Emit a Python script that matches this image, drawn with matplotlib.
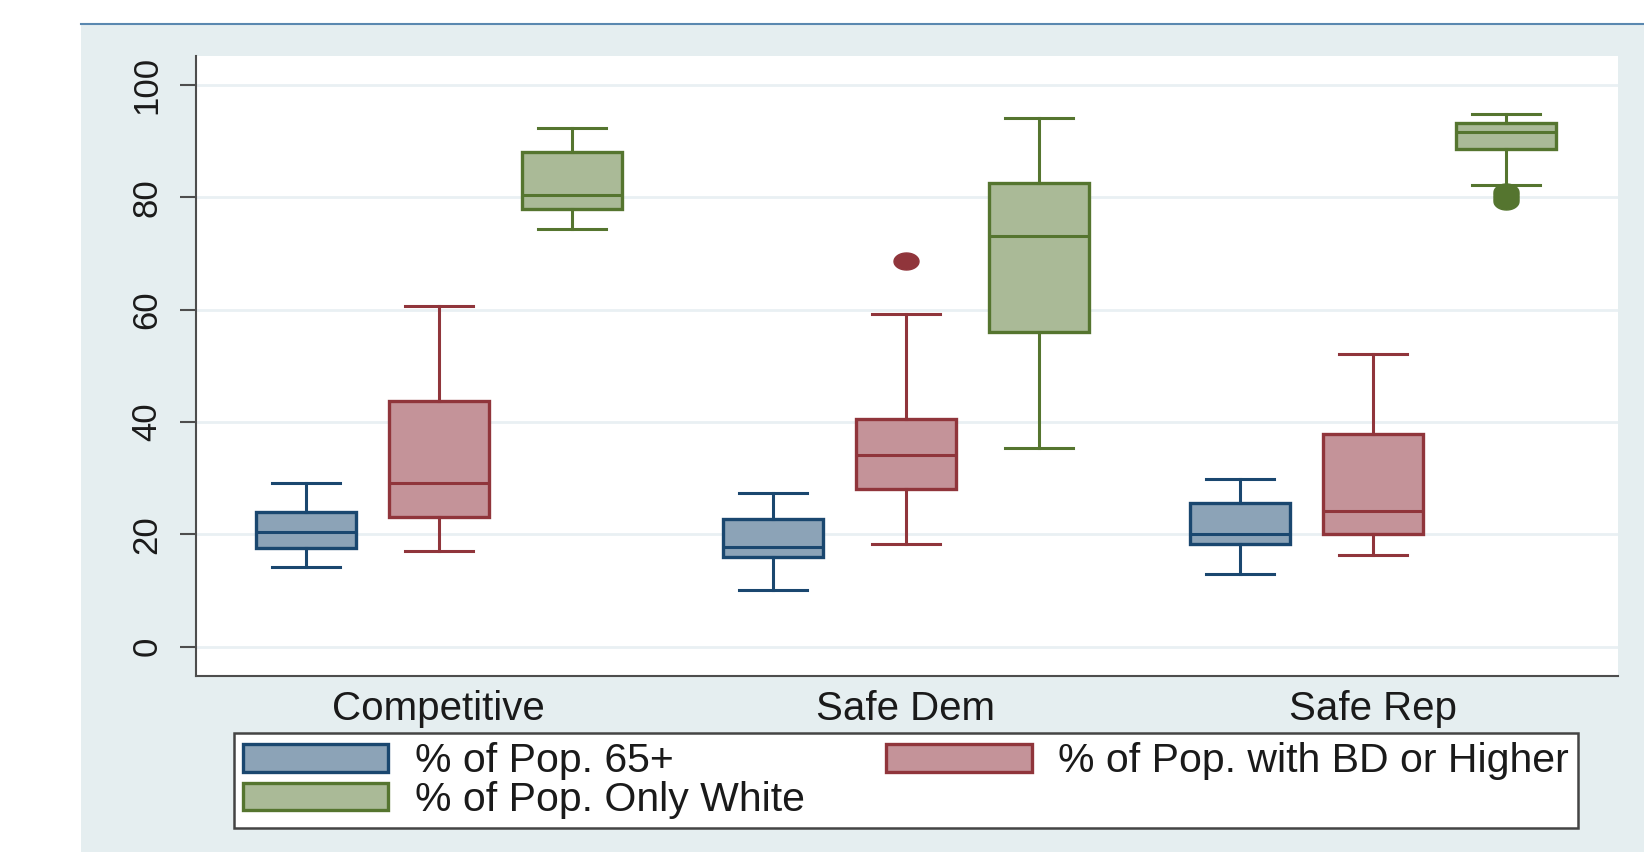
import numpy as np
import matplotlib
matplotlib.use('Agg')
import matplotlib.pyplot as plt
from matplotlib.patches import Patch, Rectangle
from matplotlib.lines import Line2D
from matplotlib.path import Path

plt.rcParams['font.family'] = ['Liberation Sans', 'DejaVu Sans']

groups = ['Competitive', 'Safe Dem', 'Safe Rep']
series = ['% of Pop. 65+', '% of Pop. with BD or Higher', '% of Pop. Only White']

# per group: [lower whisker, q1, median, q3, upper whisker]
age65_stats = [[14.2, 17.6, 20.4, 24.0, 29.2],
               [10.0, 16.0, 17.8, 22.7, 27.4],
               [13.0, 18.25, 20.0, 25.5, 29.9]]
bd_stats = [[17.0, 23.1, 29.1, 43.8, 60.7],
            [18.2, 28.1, 34.2, 40.5, 59.3],
            [16.3, 20.0, 24.2, 37.8, 52.2]]
white_stats = [[74.3, 77.9, 80.5, 88.1, 92.3],
               [35.3, 56.0, 73.2, 82.6, 94.2],
               [82.3, 88.7, 91.6, 93.3, 94.8]]
age65_out = [[], [], []]
bd_out = [[], [68.7], []]
white_out = [[], [], [79.4, 79.9, 80.4, 80.9]]

edge_cols = ['#1a476f', '#90353b', '#55752f']
face_cols = ['#8ca3b7', '#c49399', '#aaba97']

W, H = 1644, 852
fig = plt.figure(figsize=(W / 100, H / 100), dpi=100)
fig.patches.append(Rectangle((81 / W, 0), 1 - 81 / W, 1 - 24 / H, transform=fig.transFigure,
                             facecolor='#e5eef0', edgecolor='none', zorder=-10))
fig.add_artist(Line2D([81 / W, 1], [1 - 24 / H, 1 - 24 / H], color='#5a88b0', lw=1.5, zorder=-5))

ax = fig.add_axes([196 / W, 1 - 676 / H, (1618 - 196) / W, (676 - 56) / H])
ax.set_facecolor('white')

# squashed dot like the Stata marker
t = np.linspace(0, 2 * np.pi, 41)
dot = Path(np.column_stack([np.cos(t), 0.68 * np.sin(t)]), closed=True)

offsets = [-0.285, 0.0, 0.285]
all_stats = [age65_stats, bd_stats, white_stats]
all_out = [age65_out, bd_out, white_out]
for k in range(3):
    bx = []
    for g in range(3):
        lo, q1, med, q3, hi = all_stats[k][g]
        bx.append({'whislo': lo, 'q1': q1, 'med': med, 'q3': q3, 'whishi': hi,
                   'fliers': all_out[k][g]})
    pos = [g + offsets[k] for g in range(3)]
    ec = edge_cols[k]
    ax.bxp(bx, positions=pos, widths=0.214, capwidths=0.146, patch_artist=True,
           manage_ticks=False,
           boxprops=dict(facecolor=face_cols[k], edgecolor=ec, linewidth=2.4),
           medianprops=dict(color=ec, linewidth=2.2),
           whiskerprops=dict(color=ec, linewidth=2.2),
           capprops=dict(color=ec, linewidth=2.2),
           flierprops=dict(marker=dot, markersize=18, markerfacecolor=ec,
                           markeredgecolor=ec, linestyle='none'))

ax.set_xlim(-0.520, 2.525)
ax.set_ylim(-5.25, 105.2)
ax.set_xticks(range(3))
ax.set_xticklabels(groups, fontsize=29, color='#1a1a1a')
ax.set_yticks(range(0, 101, 20))
ax.set_yticklabels([str(v) for v in range(0, 101, 20)], rotation=90, va='center',
                   fontsize=25, color='#1a1a1a')
ax.tick_params(axis='x', length=0, pad=10)
ax.tick_params(axis='y', length=11.5, width=1.5, color='#4d4d4d', pad=12)

ax.yaxis.grid(True, color='#e9f0f3', linewidth=2)
ax.set_axisbelow(True)
for s in ['top', 'right']:
    ax.spines[s].set_visible(False)
for s in ['left', 'bottom']:
    ax.spines[s].set_color('#4d4d4d')
    ax.spines[s].set_linewidth(1.5)

handles = [Patch(facecolor=face_cols[i], edgecolor=edge_cols[i], linewidth=2.4) for i in [0, 2, 1]]
labels = [series[i] for i in [0, 2, 1]]
leg = fig.legend(handles, labels, ncol=2, loc='upper left',
                 bbox_to_anchor=(234 / W, 1 - 734 / H, (1578 - 234) / W, 0.001),
                 mode='expand', fontsize=29.5, frameon=True, fancybox=False,
                 edgecolor='#444444', facecolor='white', framealpha=1,
                 handlelength=3.55, handleheight=0.66, handletextpad=0.65,
                 borderpad=0.22, labelspacing=0.02, borderaxespad=0)
leg.get_frame().set_linewidth(1.8)
for txt in leg.get_texts():
    txt.set_color('#1a1a1a')

fig.savefig('out.png', dpi=100, facecolor='white')
